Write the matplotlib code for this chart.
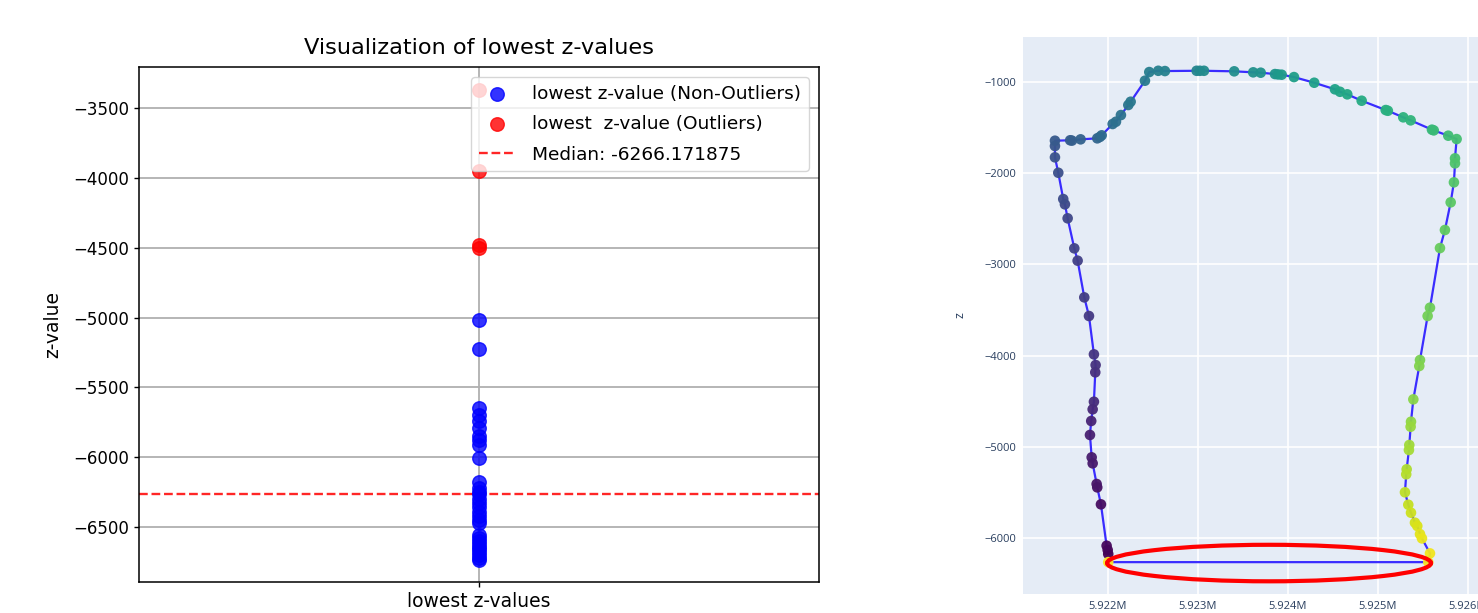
import numpy as np
import matplotlib
matplotlib.use("Agg")
import matplotlib.pyplot as plt
from matplotlib.patches import Ellipse
from matplotlib.ticker import FixedLocator, FixedFormatter

# ---------------- data: left chart ----------------
category = ["lowest z-values"]
non_outliers = [-5020, -5229,
                -5650, -5700, -5740, -5790, -5850, -5880, -5910,
                -6004,
                -6180, -6220, -6250, -6266.171875,
                -6300, -6330, -6360, -6390, -6420, -6450, -6475,
                -6560, -6580, -6600, -6620, -6640, -6660, -6680, -6700, -6720, -6740]
outliers = [-3372, -3950, -4480, -4500]
median_value = -6266.171875
left_yticks = [-3500, -4000, -4500, -5000, -5500, -6000, -6500]

# ---------------- data: right chart ----------------
path_x = [5922003, 5921997, 5921985, 5921922, 5921881, 5921874, 5921830, 5921819,
          5921800, 5921814, 5921830, 5921844, 5921859, 5921863, 5921844, 5921789,
          5921737, 5921663, 5921626, 5921552, 5921522, 5921503, 5921448, 5921411,
          5921411, 5921411, 5921580, 5921600, 5921696, 5921881, 5921910, 5921930,
          5922052, 5922089, 5922144, 5922226, 5922252, 5922411, 5922459, 5922559,
          5922633, 5922985, 5923022, 5923067, 5923403, 5923614, 5923697, 5923856,
          5923890, 5923930, 5924067, 5924292, 5924522, 5924578, 5924659, 5924819,
          5925086, 5925110, 5925281, 5925363, 5925600, 5925620, 5925781, 5925874,
          5925856, 5925856, 5925844, 5925808, 5925744, 5925689, 5925578, 5925552,
          5925467, 5925459, 5925393, 5925367, 5925363, 5925348, 5925344, 5925319,
          5925314, 5925300, 5925337, 5925367, 5925411, 5925437, 5925467, 5925489,
          5925578, 5925559, 5922003]
path_z = [-6173, -6129, -6082, -5629, -5443, -5406, -5180, -5114,
          -4869, -4716, -4588, -4505, -4183, -4103, -3986, -3566,
          -3362, -2960, -2825, -2496, -2343, -2285, -1997, -1828,
          -1704, -1646, -1641, -1645, -1631, -1620, -1605, -1587,
          -1463, -1438, -1365, -1255, -1219, -989, -894, -880,
          -883, -880, -880, -880, -886, -897, -901, -916,
          -920, -923, -949, -1011, -1083, -1110, -1138, -1208,
          -1310, -1318, -1390, -1423, -1525, -1533, -1591, -1628,
          -1839, -1894, -2102, -2321, -2624, -2822, -3475, -3566,
          -4048, -4114, -4479, -4724, -4779, -4979, -5034, -5245,
          -5300, -5497, -5633, -5721, -5830, -5866, -5955, -6002,
          -6166, -6262, -6262]
right_xticks = [5922000, 5923000, 5924000, 5925000, 5926000]
right_xticklabels = ["5.922M", "5.923M", "5.924M", "5.925M", "5.926M"]
right_yticks = [-1000, -2000, -3000, -4000, -5000, -6000]
right_yticklabels = ["\u22121000", "\u22122000", "\u22123000", "\u22124000", "\u22125000", "\u22126000"]

# highlight ellipse (annotation)
ell_center = (5923790, -6272)
ell_width = 3600
ell_height = 400

W, H = 1478, 613
fig = plt.figure(figsize=(W / 100, H / 100), dpi=100)

# ---------------- left chart ----------------
ax1 = fig.add_axes([139 / W, 1 - 582 / H, (819 - 139) / W, (582 - 67) / H])
ax1.scatter(category * len(non_outliers), non_outliers, color="blue", alpha=0.8, s=95,
            label="lowest z-value (Non-Outliers)", zorder=3)
ax1.scatter(category * len(outliers), outliers, color="red", alpha=0.8, s=95,
            label="lowest  z-value (Outliers)", zorder=3)
ax1.axhline(median_value, color="red", linestyle="--", linewidth=1.7, alpha=0.85,
            label=f"Median: {median_value}")
ax1.set_xlim(-1, 1)
ax1.set_ylim(-6894, -3206)
ax1.set_yticks(left_yticks)
ax1.grid(True, color="#b0b0b0", linewidth=1.3)
ax1.set_axisbelow(True)
for sp in ax1.spines.values():
    sp.set_linewidth(1.1)
ax1.tick_params(axis="y", labelsize=12, width=1.0)
ax1.tick_params(axis="x", labelsize=13.5, width=1.0)
ax1.set_title("Visualization of lowest z-values", fontsize=16.2, pad=9)
ax1.set_ylabel("z-value", fontsize=13.5, labelpad=8)
ax1.legend(loc="upper right", fontsize=13.3, handletextpad=0.9, borderaxespad=0.55,
           labelspacing=0.68, borderpad=0.4)

# ---------------- right chart ----------------
x0 = 1023
x_lo, x_hi = 5921056, 5926500
px_per_unit = 0.09
ax_w = (x_hi - x_lo) * px_per_unit
ax2 = fig.add_axes([x0 / W, 1 - 594 / H, ax_w / W, (594 - 37) / H])
ax2.set_facecolor("#E5ECF6")
ax2.plot(path_x, path_z, color="#3a2cff", linewidth=1.6, zorder=2)
ax2.scatter(path_x, path_z, c=np.arange(len(path_x)), cmap="viridis", s=58,
            alpha=0.95, linewidths=0, zorder=3)
ax2.add_patch(Ellipse(ell_center, ell_width, ell_height, fill=False,
                      edgecolor="red", linewidth=3.0, zorder=4))
ax2.set_xlim(x_lo, x_hi)
ax2.set_ylim(-6611, -510)
ax2.xaxis.set_major_locator(FixedLocator(right_xticks))
ax2.xaxis.set_major_formatter(FixedFormatter(right_xticklabels))
ax2.yaxis.set_major_locator(FixedLocator(right_yticks))
ax2.yaxis.set_major_formatter(FixedFormatter(right_yticklabels))
ax2.grid(True, color="white", linewidth=1.2)
ax2.set_axisbelow(True)
for sp in ax2.spines.values():
    sp.set_visible(False)
ax2.tick_params(length=0, labelsize=8, labelcolor="#2a3f5f", pad=5)
for t in ax2.get_xticklabels() + ax2.get_yticklabels():
    t.set_family(["Open Sans", "DejaVu Sans"])
ax2.set_ylabel("z", fontsize=9, color="#2a3f5f", family=["Open Sans", "DejaVu Sans"])
ax2.yaxis.set_label_coords(-57 / ax_w, 0.5)

fig.savefig("out.png", dpi=100)
